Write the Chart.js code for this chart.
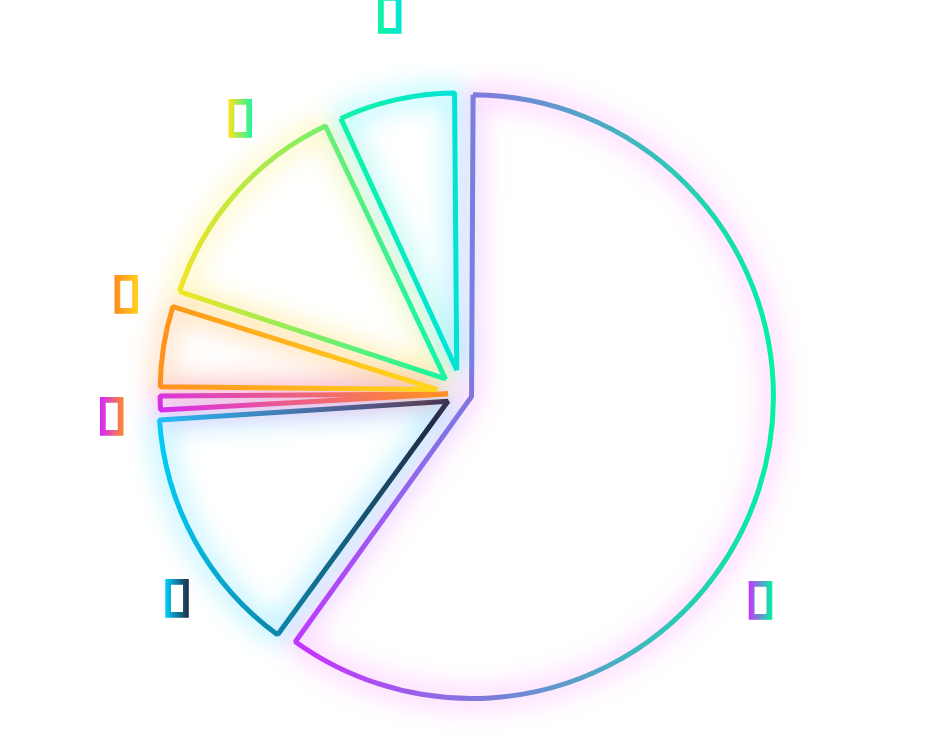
<!DOCTYPE html>
<html>
<head>
<meta charset="utf-8">
<script src="https://cdn.jsdelivr.net/npm/chart.js@4/dist/chart.umd.min.js"></script>
<style>
  html, body { margin: 0; padding: 0; background: #ffffff; }
  #wrap { width: 926px; height: 741px; position: relative; }
</style>
</head>
<body>
<div id="wrap"><canvas id="chart" width="926" height="741"></canvas></div>
<script>
// ---- data ----
const categories = ['\u{F0001}', '\u{F0002}', '\u{F0003}', '\u{F0004}', '\u{F0005}', '\u{F0006}'];
const values = [60, 14, 1, 5, 13, 7];

// ---- styles ----
const gradStart = ['#c832ff', '#00d4ff', '#d524ff', '#ff8a1e', '#ffe41c', '#12f5a2'];
const gradEnd   = ['#00f5a0', '#1f2a45', '#ff8c2c', '#ffd21c', '#1ef59c', '#00e4d6'];
const glowColor = ['#ff5cff', '#00d4ff', '#ff5cff', '#ff8a1e', '#ffe41c', '#00e8ff'];
const explode = [40, 64, 56, 100, 88, 96];                 // Chart.js "offset" per slice
const radiusFactor = [1.034, 0.99, 0.986, 0.949, 0.959, 0.949]; // outer extent vs base radius

// label placement (relative to each slice's own mid-angle / outer radius)
const labelNudgeDeg = [16.7, -6.9, -2.0, 7.4, 9.7, 1.8];
const labelGap = [71, 59, 59, 58, 61, 94];

function arcFix(arc) {
  return 1 - Math.sin(Math.min(Math.PI, arc.circumference || 0));
}

function sliceBounds(arc, r) {
  const off = (arc.options.offset || 0) / 4;
  const half = (arc.startAngle + arc.endAngle) / 2;
  const cx = arc.x + Math.cos(half) * off;
  let minX = cx, maxX = cx;
  const pts = [arc.startAngle, arc.endAngle];
  for (let k = -4; k <= 8; k++) {
    const a = k * Math.PI / 2;
    if (a > arc.startAngle && a < arc.endAngle) pts.push(a);
  }
  pts.forEach(a => {
    const px = cx + Math.cos(a) * r;
    minX = Math.min(minX, px); maxX = Math.max(maxX, px);
  });
  return { minX, maxX };
}

// glow + per-slice horizontal gradient border + per-slice outer extent
const baseArcDraw = Chart.ArcElement.prototype.draw;
Chart.ArcElement.prototype.draw = function (ctx) {
  const i = this.$sliceIndex;
  if (i === undefined) { baseArcDraw.call(this, ctx); return; }
  const r0 = this.outerRadius;
  const off4 = (this.options.offset || 0) / 4;
  const target = r0 * radiusFactor[i];
  const b = sliceBounds(this, target);
  const g = ctx.createLinearGradient(b.minX, 0, b.maxX, 0);
  g.addColorStop(0, gradStart[i]);
  g.addColorStop(1, gradEnd[i]);
  this.options.borderColor = g;
  this.outerRadius = target - off4 * arcFix(this);
  ctx.save();
  ctx.shadowColor = glowColor[i];
  ctx.shadowBlur = 28;
  baseArcDraw.call(this, ctx);
  ctx.restore();
  this.outerRadius = r0;
};

const tagPlugin = {
  id: 'tagSlices',
  beforeDatasetsDraw(chart) {
    chart.getDatasetMeta(0).data.forEach((arc, i) => { arc.$sliceIndex = i; });
  },
  afterDatasetsDraw(chart) {
    const ctx = chart.ctx;
    const meta = chart.getDatasetMeta(0);
    ctx.save();
    ctx.font = 'bold 40px "DejaVu Sans"';
    ctx.textAlign = 'center';
    ctx.textBaseline = 'middle';
    ctx.lineJoin = 'miter';
    meta.data.forEach((arc, i) => {
      const p = arc.getProps(['x', 'y', 'startAngle', 'endAngle', 'outerRadius'], true);
      const mid = (p.startAngle + p.endAngle) / 2 + labelNudgeDeg[i] * Math.PI / 180;
      const r = p.outerRadius + labelGap[i];
      const lx = p.x + Math.cos(mid) * r;
      const ly = p.y + Math.sin(mid) * r;
      const text = chart.data.labels[i];
      const w = ctx.measureText(text).width;
      const g = ctx.createLinearGradient(lx - w / 2, 0, lx + w / 2, 0);
      g.addColorStop(0, gradStart[i]);
      g.addColorStop(1, gradEnd[i]);
      ctx.fillStyle = g;
      ctx.strokeStyle = g;
      ctx.lineWidth = 3.5;
      ctx.fillText(text, lx, ly);
      ctx.strokeText(text, lx, ly);
    });
    ctx.restore();
  }
};

new Chart(document.getElementById('chart'), {
  type: 'pie',
  data: {
    labels: categories,
    datasets: [{
      data: values,
      backgroundColor: 'rgba(255,255,255,0)',
      borderColor: () => '#000000',
      borderWidth: 5,
      hoverBorderWidth: 5,
      offset: explode,
      hoverOffset: 0
    }]
  },
  options: {
    responsive: false,
    devicePixelRatio: 1,
    animation: false,
    events: [],
    radius: 292,
    layout: { padding: { top: 56, bottom: 10, left: 0, right: 2 } },
    plugins: {
      legend: { display: false },
      tooltip: { enabled: false }
    }
  },
  plugins: [tagPlugin]
});
</script>
</body>
</html>
